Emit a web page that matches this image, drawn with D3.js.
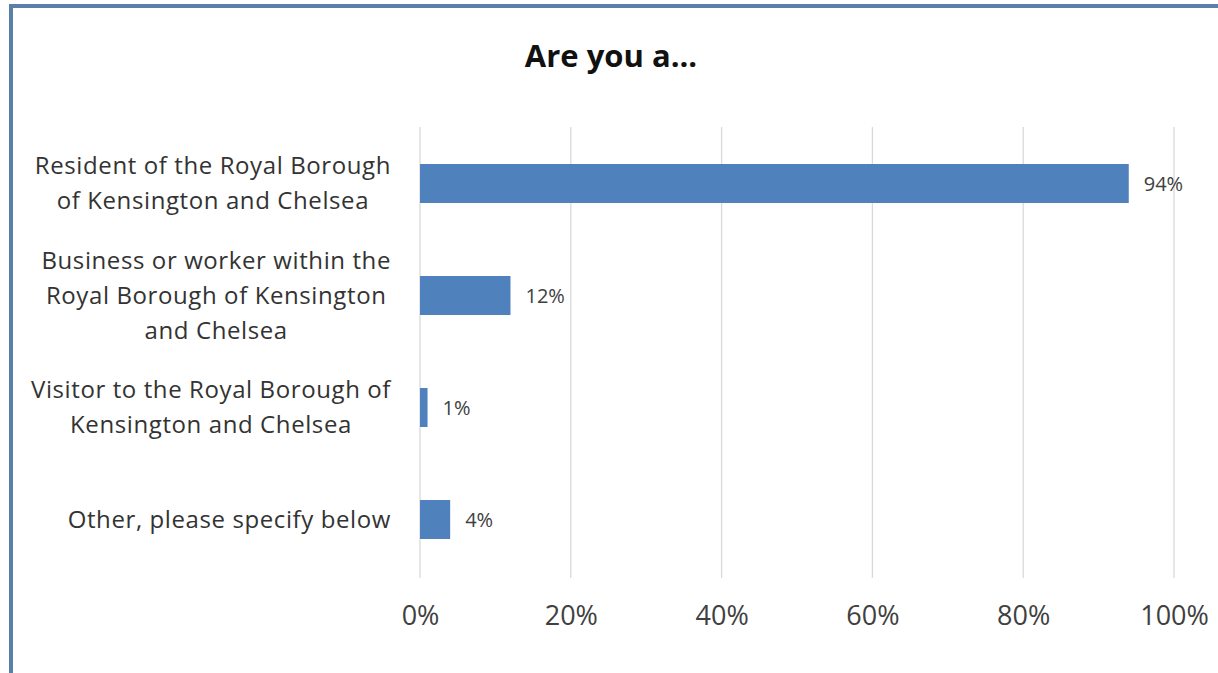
<!DOCTYPE html>
<html>
<head>
<meta charset="utf-8">
<script src="https://cdn.jsdelivr.net/npm/d3@7"></script>
<style>
  html, body { margin: 0; padding: 0; background: #ffffff; }
  svg { display: block; }
</style>
</head>
<body>
<svg id="chart" width="1218" height="673"></svg>
<script>
const title = "Are you a...";
const categories = [
  ["Resident of the Royal Borough", "of Kensington and Chelsea"],
  ["Business or worker within the", "Royal Borough of Kensington", "and Chelsea"],
  ["Visitor to the Royal Borough of", "Kensington and Chelsea"],
  ["Other, please specify below"]
];
const values = [94, 12, 1, 4];
const tickValues = [0, 20, 40, 60, 80, 100];

const svg = d3.select("#chart");
const W = 1218, H = 673;
const font = "'Open Sans', 'DejaVu Sans', sans-serif";

// frame
svg.append("rect").attr("x", 0).attr("y", 0).attr("width", W).attr("height", H).attr("fill", "#ffffff");
svg.append("rect").attr("x", 9).attr("y", 4).attr("width", W - 9).attr("height", 4).attr("fill", "#5a80aa");
svg.append("rect").attr("x", 9).attr("y", 4).attr("width", 4).attr("height", H - 4).attr("fill", "#5a80aa");

const x = d3.scaleLinear().domain([0, 100]).range([420, 1174]);
const y = d3.scaleBand().domain(d3.range(categories.length)).range([127.5, 575.5]).paddingInner(0.652).paddingOuter(0.326);

// gridlines
svg.append("g").selectAll("line").data(tickValues).join("line")
  .attr("x1", d => x(d)).attr("x2", d => x(d))
  .attr("y1", 127).attr("y2", 578)
  .attr("stroke", "#d9d9d9").attr("stroke-width", 1.3);

// axis tick labels via d3.axisBottom
const axis = d3.axisBottom(x).tickValues(tickValues).tickFormat(d => d + "%").tickSize(0).tickPadding(0);
const gAxis = svg.append("g").attr("transform", "translate(0,605)").call(axis);
gAxis.select(".domain").remove();
gAxis.selectAll("text")
  .attr("dy", null).attr("y", 20)
  .attr("font-family", font).attr("font-size", 27).attr("fill", "#404040");

// bars
svg.append("g").selectAll("rect").data(values).join("rect")
  .attr("x", x(0))
  .attr("y", (d, i) => y(i))
  .attr("width", d => x(d) - x(0))
  .attr("height", y.bandwidth())
  .attr("fill", "#4f81bd");

// value labels
svg.append("g").selectAll("text").data(values).join("text")
  .attr("x", d => x(d) + 15)
  .attr("y", (d, i) => y(i) + y.bandwidth() / 2 + 7.5)
  .attr("font-family", font).attr("font-size", 20).attr("fill", "#404040")
  .text(d => d + "%");

// category labels
const lh = 35;
categories.forEach((lines, i) => {
  const cy = y(i) + y.bandwidth() / 2;
  const g = svg.append("g");
  const texts = g.selectAll("text").data(lines).join("text")
    .attr("font-family", font).attr("font-size", 24).attr("letter-spacing", 0.6).attr("fill", "#333333")
    .attr("text-anchor", "middle")
    .attr("y", (d, j) => cy + (j - (lines.length - 1) / 2) * lh + 8)
    .text(d => d);
  let maxW = 0;
  texts.each(function() { maxW = Math.max(maxW, this.getComputedTextLength()); });
  texts.attr("x", 391 - maxW / 2);
});

// title
svg.append("text").attr("x", 611).attr("y", 67)
  .attr("text-anchor", "middle")
  .attr("font-family", font).attr("font-weight", "bold").attr("font-size", 31).attr("fill", "#111111")
  .text(title);
</script>
</body>
</html>
